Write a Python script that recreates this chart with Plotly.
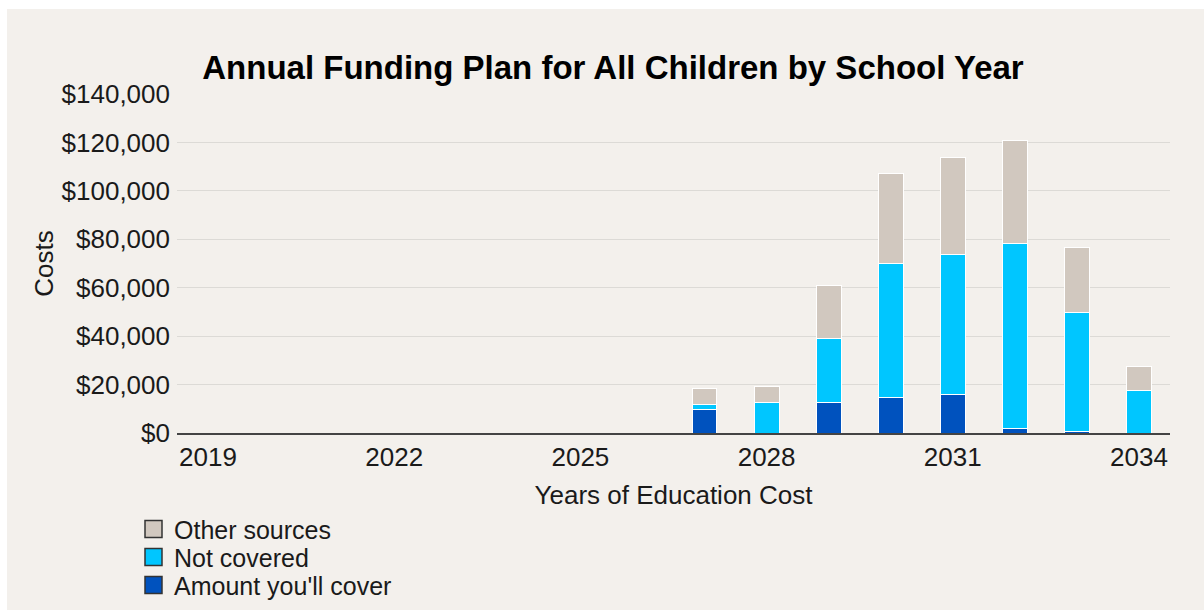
import plotly.graph_objects as go

# School years with planned costs
years = [2027, 2028, 2029, 2030, 2031, 2032, 2033, 2034]

# Cost breakdown per year (USD), stacked bottom to top
amount_you_cover = [9600, 0, 12400, 14500, 15800, 1800, 800, 0]
not_covered = [2100, 12400, 26800, 55400, 58100, 76500, 49000, 17750]
other_sources = [6600, 6900, 21600, 37400, 39900, 42500, 27000, 9650]

series_names = ["Amount you'll cover", "Not covered", "Other sources"]
series_values = [amount_you_cover, not_covered, other_sources]
series_colors = ["#0052be", "#00c6ff", "#d1c8bf"]

x_ticks = [2019, 2022, 2025, 2028, 2031, 2034]
y_ticks = [0, 20000, 40000, 60000, 80000, 100000, 120000, 140000]
y_tick_labels = ["$0", "$20,000", "$40,000", "$60,000", "$80,000",
                 "$100,000", "$120,000", "$140,000"]

W, H = 1204, 610
ML, MR, MT, MB = 177, 34, 94, 177
PW, PH = W - ML - MR, H - MT - MB
FONT = "Liberation Sans, Arial, Helvetica, sans-serif"
BG = "#f3f0ec"


def px_x(px):
    return (px - ML) / PW


def px_y(py):
    return (H - MB - py) / PH


fig = go.Figure()
for name, vals, color in zip(series_names, series_values, series_colors):
    fig.add_trace(go.Bar(
        x=years, y=vals, name=name, showlegend=False,
        marker=dict(color=color, line=dict(color="white", width=1)),
    ))

shapes = [
    # page background panel
    dict(type="rect", xref="paper", yref="paper", layer="below",
         x0=px_x(7), x1=px_x(W + 5), y0=px_y(H + 5), y1=px_y(9),
         fillcolor=BG, line=dict(width=0)),
]
annotations = []

# legend, top entry is the top of the stack
legend_rows = [529, 557, 585]
for row_y, name, color in zip(legend_rows, series_names[::-1], series_colors[::-1]):
    shapes.append(dict(
        type="rect", xref="paper", yref="paper",
        x0=px_x(145), x1=px_x(162), y0=px_y(row_y + 8.5), y1=px_y(row_y - 8.5),
        fillcolor=color, line=dict(color="#333333", width=1.5)))
    annotations.append(dict(
        xref="paper", yref="paper", x=px_x(172), y=px_y(row_y + 1),
        xanchor="left", yanchor="middle", text=name, showarrow=False,
        font=dict(family=FONT, size=25, color="#1a1a1a")))

fig.update_layout(
    width=W, height=H,
    margin=dict(l=ML, r=MR, t=MT, b=MB, pad=0),
    paper_bgcolor="white",
    plot_bgcolor="rgba(0,0,0,0)",
    barmode="stack",
    bargap=0.6,
    showlegend=False,
    font=dict(family=FONT, size=26, color="#1a1a1a"),
    title=dict(
        text="<b>Annual Funding Plan for All Children by School Year</b>",
        x=613 / W, xanchor="center", xref="container",
        y=1 - 67 / H, yanchor="middle", yref="container",
        font=dict(family=FONT, size=33, color="black"),
    ),
    xaxis=dict(
        range=[2018.5, 2034.5],
        tickmode="array", tickvals=x_ticks, ticktext=[str(v) for v in x_ticks],
        showgrid=False, zeroline=False,
        showline=True, linecolor="#444444", linewidth=1.5,
        ticks="", automargin=False,
        tickfont=dict(size=26),
        title=dict(text="Years of Education Cost", font=dict(size=26), standoff=15),
    ),
    yaxis=dict(
        range=[0, 140000],
        tickmode="array", tickvals=y_ticks, ticktext=y_tick_labels,
        showgrid=True, gridcolor="#dcdad6", gridwidth=1,
        zeroline=False, showline=False,
        ticks="", automargin=False, ticklabelstandoff=6,
        tickfont=dict(size=26),
        title=dict(text="Costs", font=dict(size=26), standoff=0),
    ),
    shapes=shapes,
    annotations=annotations,
)

fig.write_html("out.html")
